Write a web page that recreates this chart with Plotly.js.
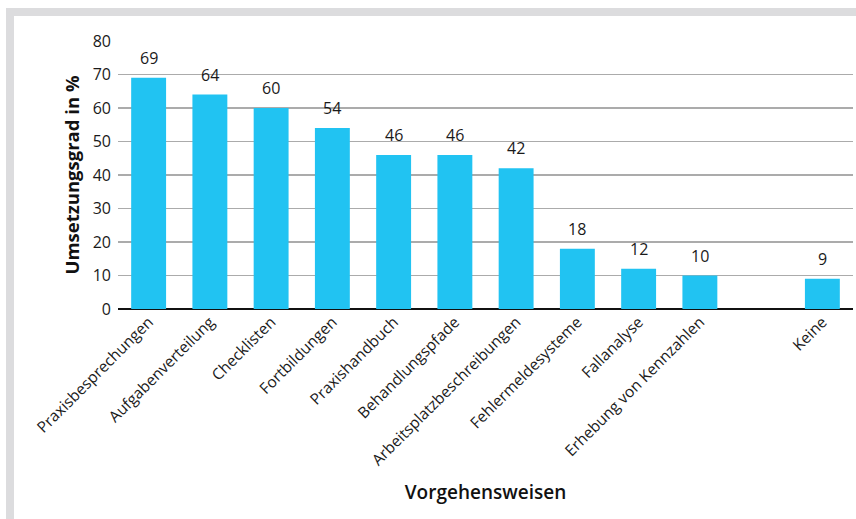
<!DOCTYPE html>
<html>
<head>
<meta charset="utf-8">
<script src="https://cdn.plot.ly/plotly-3.0.1.min.js"></script>
<style>
  html, body { margin: 0; padding: 0; background: #fff; }
  #frame { position: absolute; left: 6px; top: 8px; width: 850px; height: 511px;
           border-left: 8px solid #dcdcde; border-top: 8px solid #dcdcde; box-sizing: border-box; }
  #chart { position: absolute; left: 0; top: 0; width: 856px; height: 519px; }
</style>
</head>
<body>
<div id="frame"></div>
<div id="chart"></div>
<script>
const categories = ["Praxisbesprechungen", "Aufgabenverteilung", "Checklisten", "Fortbildungen",
  "Praxishandbuch", "Behandlungspfade", "Arbeitsplatzbeschreibungen", "Fehlermeldesysteme",
  "Fallanalyse", "Erhebung von Kennzahlen", " ", "Keine"];
const values = [69, 64, 60, 54, 46, 46, 42, 18, 12, 10, null, 9];
const yTicks = [0, 10, 20, 30, 40, 50, 60, 70, 80];

const font = "'Open Sans', 'Noto Sans', sans-serif";

const annotations = categories.map((c, i) => values[i] === null ? null : ({
  x: c, y: values[i], xref: 'x', yref: 'y', text: String(values[i]),
  showarrow: false, yanchor: 'bottom', yshift: 7,
  font: { family: font, size: 16, color: '#1a1a1a' }
})).filter(a => a);

Plotly.newPlot('chart', [{
  type: 'bar',
  x: categories,
  y: values,
  marker: { color: '#21c3f2' },
  hoverinfo: 'x+y'
}], {
  width: 856, height: 519,
  margin: { l: 118, r: 3, t: 41, b: 210 },
  paper_bgcolor: 'rgba(0,0,0,0)',
  plot_bgcolor: 'rgba(0,0,0,0)',
  bargap: 0.43,
  showlegend: false,
  xaxis: {
    type: 'category',
    tickangle: -45,
    tickfont: { family: font, size: 15.5, color: '#1a1a1a' },
    showline: false, showgrid: false, ticks: '',
    title: { text: 'Vorgehensweisen', font: { family: font, size: 19, color: '#111', weight: 600 }, standoff: 16 },
    automargin: false
  },
  yaxis: {
    range: [0, 80],
    tickvals: yTicks,
    tickfont: { family: font, size: 16, color: '#1a1a1a' },
    showgrid: true, gridcolor: '#ababab', gridwidth: 1.5,
    zeroline: true, zerolinecolor: '#111', zerolinewidth: 2,
    showline: false, ticks: '', ticklabelstandoff: 6,
    title: { text: '<b>Umsetzungsgrad in %</b>', font: { family: font, size: 18.5, color: '#111' }, standoff: 8 },
    automargin: false
  },
  annotations: annotations
}, { displayModeBar: false, staticPlot: true });
</script>
</body>
</html>
